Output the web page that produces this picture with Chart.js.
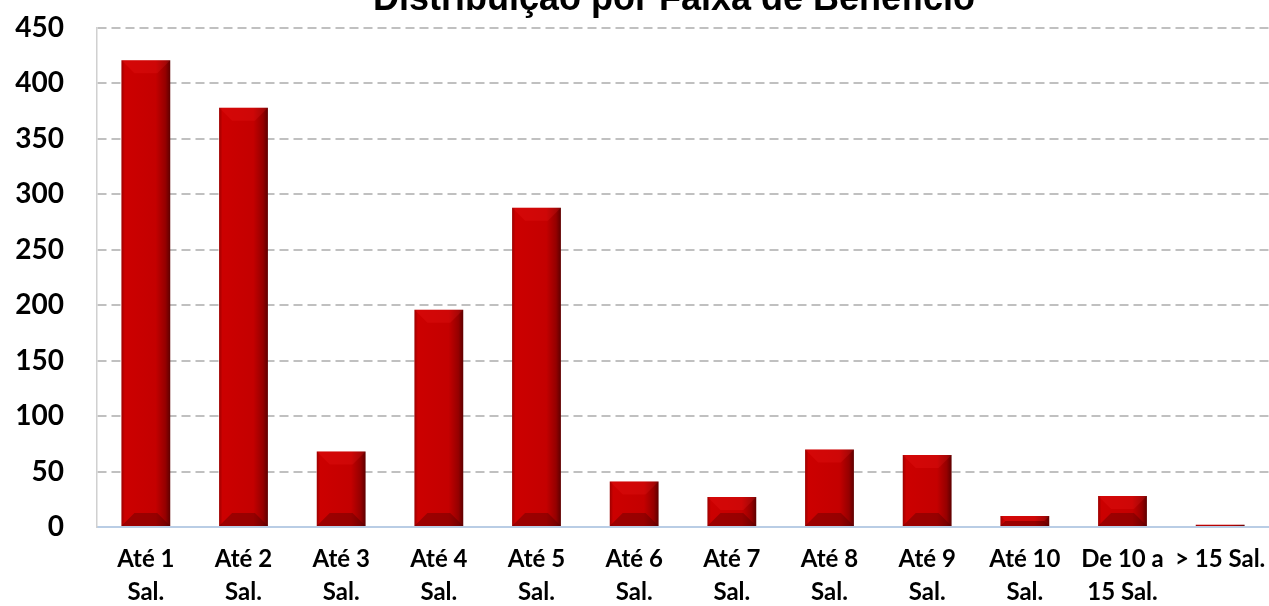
<!DOCTYPE html>
<html>
<head>
<meta charset="utf-8">
<script src="https://cdn.jsdelivr.net/npm/chart.js@4"></script>
<style>
  html, body { margin: 0; padding: 0; background: #fff; overflow: hidden; }
  #wrap { width: 1269px; height: 606px; position: relative; }
</style>
</head>
<body>
<div id="wrap"><canvas id="grafico_faixa"></canvas></div>
<script>
const titulo = 'Distribuição por Faixa de Benefício'
const faixas = [
    ['Até 1', 'Sal.'], ['Até 2', 'Sal.'], ['Até 3', 'Sal.'], ['Até 4', 'Sal.'],
    ['Até 5', 'Sal.'], ['Até 6', 'Sal.'], ['Até 7', 'Sal.'], ['Até 8', 'Sal.'],
    ['Até 9', 'Sal.'], ['Até 10', 'Sal.'], ['De 10 a', '15 Sal.'], '> 15 Sal.'
]
const quantidade = [421, 378, 68, 196, 288, 41, 27, 70, 65, 10, 28, 2]
const eixoMax = 450
const eixoPasso = 50

// titulo desenhado a mao (fica cortado no topo como na imagem)
const tituloPlugin = {
    id: 'tituloCortado',
    afterDraw(chart) {
        const c = chart.ctx
        c.save()
        c.font = 'bold 36px "Liberation Sans", Arial, sans-serif'
        c.fillStyle = '#000'
        c.textAlign = 'center'
        c.textBaseline = 'alphabetic'
        c.fillText(titulo, 674, 10)
        c.restore()
    }
}

// efeito de chanfro nas barras (parte de baixo mais escura, topo mais claro)
const chanfroPlugin = {
    id: 'chanfro',
    afterDatasetsDraw(chart) {
        const c = chart.ctx
        chart.getDatasetMeta(0).data.forEach(bar => {
            const esq = bar.x - bar.width / 2
            const dir = bar.x + bar.width / 2
            const topo = bar.y
            const base = bar.base
            const b = Math.min(13, (base - topo) / 2)
            c.save()
            c.fillStyle = 'rgba(70,0,0,0.35)'
            c.beginPath()
            c.moveTo(esq, base); c.lineTo(dir, base)
            c.lineTo(dir - b, base - b); c.lineTo(esq + b, base - b)
            c.closePath(); c.fill()
            c.fillStyle = 'rgba(255,40,40,0.18)'
            c.beginPath()
            c.moveTo(esq, topo); c.lineTo(dir, topo)
            c.lineTo(dir - b, topo + b); c.lineTo(esq + b, topo + b)
            c.closePath(); c.fill()
            c.restore()
        })
    }
}

// gradiente horizontal de cada barra
function corBarra(context) {
    const chart = context.chart
    const x = chart.scales.x
    if (!chart.chartArea || !x) return '#c00000'
    const meia = (chart.chartArea.width / faixas.length) * 0.5 / 2
    const cx = x.getPixelForValue(context.dataIndex)
    const g = chart.ctx.createLinearGradient(cx - meia, 0, cx + meia, 0)
    g.addColorStop(0, '#9c0000')
    g.addColorStop(0.07, '#cc0000')
    g.addColorStop(0.7, '#c40000')
    g.addColorStop(0.9, '#950000')
    g.addColorStop(1, '#5e0000')
    return g
}

const ctx = document.getElementById('grafico_faixa').getContext('2d')

const data = {
    labels: faixas,
    datasets: [{
        label: titulo,
        data: quantidade,
        backgroundColor: corBarra,
        borderWidth: 0,
        barPercentage: 0.5,
        categoryPercentage: 1
    }]
}

const options = {
    responsive: true,
    maintainAspectRatio: false,
    animation: false,
    layout: { padding: { top: 28, left: 0, right: 0, bottom: 0 } },
    scales: {
        x: {
            afterFit(scale) {
                scale.height = 79
                scale.paddingLeft = 0
                scale.paddingRight = 0
            },
            grid: { display: false, drawTicks: false },
            border: { display: true, color: '#b9cde5', width: 2 },
            ticks: {
                color: '#000',
                padding: 16,
                maxRotation: 0,
                autoSkip: false,
                font: { family: 'Lato', weight: 'bold', size: 24, lineHeight: 1.38 }
            }
        },
        y: {
            min: 0,
            max: eixoMax,
            afterFit(scale) {
                scale.width = 97
                scale.paddingTop = 0
                scale.paddingBottom = 0
            },
            grid: { color: '#c0c0c0', lineWidth: 2, drawTicks: false },
            border: { display: true, color: '#d0d0d0', width: 1.5 },
            ticks: {
                stepSize: eixoPasso,
                color: '#000',
                padding: 33,
                font: { family: 'Lato', weight: 'bold', size: 28 }
            }
        }
    },
    plugins: {
        legend: { display: false },
        tooltip: { enabled: false },
        title: { display: false }
    }
}

// linhas de grade tracejadas
options.scales.y.border.dash = [9, 5]

const mychar = new Chart(ctx, { type: 'bar', data, options, plugins: [tituloPlugin, chanfroPlugin] })
</script>
</body>
</html>
